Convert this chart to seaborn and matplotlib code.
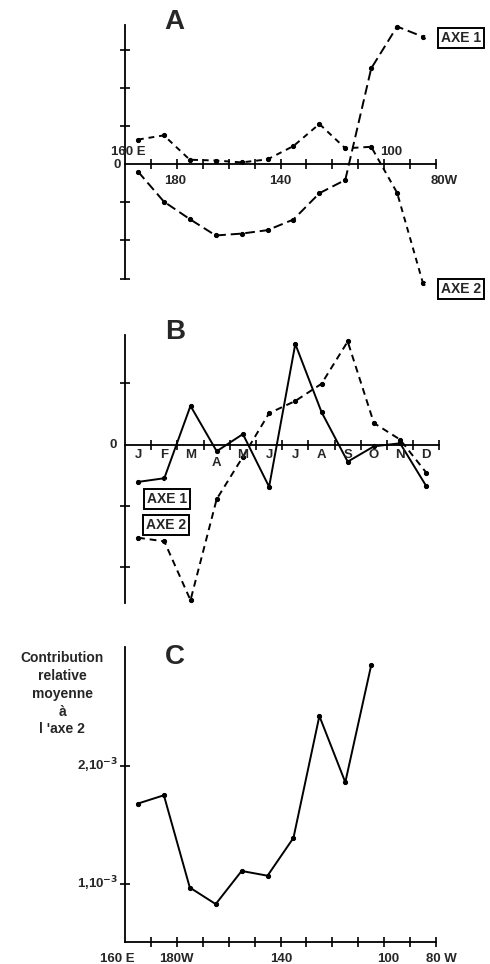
import numpy as np
import matplotlib
matplotlib.use('Agg')
import matplotlib.pyplot as plt
import seaborn as sns

# panel A : scores on axes 1 and 2 along the equator (degrees east of 160E)
lon_a = [5, 15, 25, 35, 45, 55, 65, 75, 85, 95, 105, 115]
axe1_a = [-0.19, -0.98, -1.44, -1.87, -1.82, -1.73, -1.45, -0.76, -0.41, 2.52, 3.62, 3.35]
axe2_a = [0.65, 0.76, 0.12, 0.10, 0.05, 0.13, 0.48, 1.06, 0.42, 0.46, -0.75, -3.13]

# panel B : monthly scores
months = ['J', 'F', 'M', 'A', 'M', 'J', 'J', 'A', 'S', 'O', 'N', 'D']
axe1_b = [-0.61, -0.55, 0.63, -0.11, 0.17, -0.69, 1.64, 0.53, -0.28, -0.03, 0.02, -0.68]
axe2_b = [-1.52, -1.58, -2.54, -0.89, -0.20, 0.51, 0.71, 0.99, 1.68, 0.35, 0.08, -0.46]

# panel C : mean relative contribution to axis 2
lon_c = [5, 15, 25, 35, 45, 55, 65, 75, 85, 95]
contrib_c = [1.68e-3, 1.75e-3, 0.97e-3, 0.83e-3, 1.11e-3, 1.07e-3, 1.39e-3, 2.42e-3, 1.86e-3, 2.85e-3]

sns.set_style('ticks')
plt.rcParams['font.family'] = ['Liberation Sans', 'DejaVu Sans']
plt.rcParams['font.weight'] = 'bold'

W, H = 490, 964
fig = plt.figure(figsize=(W / 100, H / 100), dpi=100)


def place(left, top, right, bottom):
    return fig.add_axes([left / W, 1 - bottom / H, (right - left) / W, (bottom - top) / H])


def style_axes(ax):
    for side in ['top', 'right']:
        ax.spines[side].set_visible(False)
    for side in ['left', 'bottom']:
        ax.spines[side].set_color('black')
        ax.spines[side].set_linewidth(1.3)
    ax.tick_params(direction='inout', length=7, width=1.2, color='black',
                   labelbottom=False, labelleft=False)
    ax.set_xlabel('')
    ax.set_ylabel('')
    ax.patch.set_alpha(0)


def curve(ax, x, y, ls):
    sns.lineplot(x=x, y=y, ax=ax, color='black', lw=1.4, linestyle=ls,
                 marker='o', markersize=3, markerfacecolor='black',
                 markeredgecolor='black', errorbar=None, clip_on=False)


box = dict(boxstyle='square,pad=0.22', fc='white', ec='black', lw=1.4)
txt = dict(fontsize=10, fontweight='bold')

# ---------------- A
ax = place(125, 25, 436, 278.5)
curve(ax, lon_a, axe1_a, (0, (5, 2.5)))
curve(ax, lon_a, axe2_a, (0, (3, 2.5)))
ax.set_xlim(0, 120)
ax.set_ylim(-3, 3.66)
ax.spines['bottom'].set_position(('data', 0))
ax.set_xticks(range(10, 121, 10))
ax.set_yticks([-3, -2, -1, 1, 2, 3])
style_axes(ax)
ax.text(18.9, 3.74, 'A', fontsize=20, fontweight='bold', ha='center', va='center')
ax.text(-1.5, -0.02, '0', ha='right', va='center', fontsize=9.5)
ax.text(1.3, 0.32, '160 E', ha='center', va='center', fontsize=9.5)
ax.text(19.3, -0.44, '180', ha='center', va='center', fontsize=9.5)
ax.text(60, -0.44, '140', ha='center', va='center', fontsize=9.5)
ax.text(102.7, 0.32, '100', ha='center', va='center', fontsize=9.5)
ax.text(123, -0.44, '80W', ha='center', va='center', fontsize=9.5)
ax.annotate('AXE 1', xy=(lon_a[-1], axe1_a[-1]), xytext=(129.5, 3.32), ha='center', va='center',
            bbox=box, annotation_clip=False,
            arrowprops=dict(arrowstyle='-', lw=1.2, shrinkA=0, shrinkB=2), **txt)
ax.annotate('AXE 2', xy=(lon_a[-1], axe2_a[-1]), xytext=(129.5, -3.28), ha='center', va='center',
            bbox=box, annotation_clip=False,
            arrowprops=dict(arrowstyle='-', lw=1.2, shrinkA=0, shrinkB=2), **txt)

# ---------------- B
month_pos = np.arange(len(months)) + 0.5
ax = place(125, 335, 439.4, 603.3)
curve(ax, month_pos, axe1_b, '-')
curve(ax, month_pos, axe2_b, (0, (3.5, 2.5)))
ax.set_xlim(0, 12)
ax.set_ylim(-2.59, 1.786)
ax.spines['bottom'].set_position(('data', 0))
ax.set_xticks(range(1, 13))
ax.set_yticks([-2, -1, 1])
style_axes(ax)
ax.text(1.91, 1.84, 'B', fontsize=20, fontweight='bold', ha='center', va='center')
ax.text(-0.3, 0, '0', ha='right', va='center', fontsize=9.5)
for i, m in enumerate(months):
    dy = -0.30 if i == 3 else -0.17
    ax.text(month_pos[i], dy, m, ha='center', va='center', fontsize=9.5)
ax.annotate('AXE 1', xy=(month_pos[1], axe1_b[1]), xytext=(1.59, -0.886), ha='center', va='center',
            bbox=box, annotation_clip=False,
            arrowprops=dict(arrowstyle='-', lw=1.1, shrinkA=0, shrinkB=2, relpos=(0.75, 1.0)), **txt)
ax.annotate('AXE 2', xy=(1.78, -1.75), xytext=(1.56, -1.31), ha='center', va='center',
            bbox=box, annotation_clip=False,
            arrowprops=dict(arrowstyle='-', lw=1.1, shrinkA=0, shrinkB=0, relpos=(0.78, 0.0)), **txt)

# ---------------- C
ax = place(125, 646.7, 436, 942.3)
curve(ax, lon_c, contrib_c, '-')
ax.set_xlim(0, 120)
ax.set_ylim(0.507e-3, 3.006e-3)
ax.set_xticks(range(10, 121, 10))
ax.set_yticks([1e-3, 2e-3])
style_axes(ax)
ax.text(19.3, 2.92e-3, 'C', fontsize=20, fontweight='bold', ha='center', va='center')
ax.text(-24.3, 2.97e-3, "Contribution\nrelative\nmoyenne\nà\nl 'axe 2", ha='center', va='top',
        fontsize=10, fontweight='bold', linespacing=1.35)
ax.text(-2.5, 2.0e-3, r'2,10$^{-3}$', ha='right', va='center', fontsize=9.5)
ax.text(-2.5, 1.0e-3, r'1,10$^{-3}$', ha='right', va='center', fontsize=9.5)
ax.text(-3.1, 0.366e-3, '160 E', ha='center', va='center', fontsize=9.5)
ax.text(20, 0.366e-3, '180W', ha='center', va='center', fontsize=9.5)
ax.text(60.2, 0.366e-3, '140', ha='center', va='center', fontsize=9.5)
ax.text(101.5, 0.366e-3, '100', ha='center', va='center', fontsize=9.5)
ax.text(122, 0.366e-3, '80 W', ha='center', va='center', fontsize=9.5)

fig.savefig('out.png', dpi=100, facecolor='white')
